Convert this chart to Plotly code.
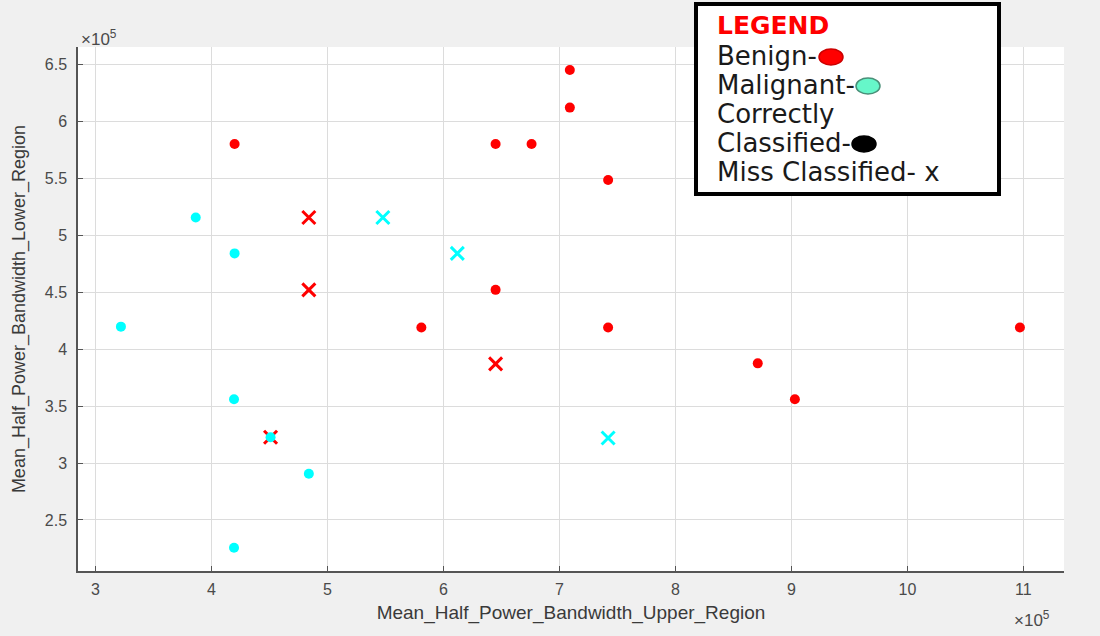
import plotly.graph_objects as go

# Data (values in units of 1e5, scaled below)
benign_correct_x = [7.09, 7.09, 4.20, 6.45, 6.76, 7.42, 6.45, 5.81, 7.42, 10.97, 8.71, 9.03]
benign_correct_y = [6.45, 6.12, 5.80, 5.80, 5.80, 5.485, 4.52, 4.19, 4.19, 4.19, 3.875, 3.56]

malig_correct_x = [3.865, 4.20, 3.22, 4.195, 4.84, 4.195, 4.51]
malig_correct_y = [5.155, 4.84, 4.197, 3.559, 2.906, 2.256, 3.226]

benign_miss_x = [4.84, 4.84, 6.45, 4.51]
benign_miss_y = [5.155, 4.52, 3.87, 3.226]

malig_miss_x = [5.478, 6.12, 7.42]
malig_miss_y = [5.155, 4.84, 3.22]

x_ticks = [3, 4, 5, 6, 7, 8, 9, 10, 11]
y_ticks = [2.5, 3, 3.5, 4, 4.5, 5, 5.5, 6, 6.5]

SCALE = 1e5
def s(v):
    return [a * SCALE for a in v]

RED = "#ff0000"
CYAN = "#00ffff"

fig = go.Figure()
fig.add_trace(go.Scatter(x=s(benign_miss_x), y=s(benign_miss_y), mode="markers",
                         marker=dict(symbol="x-thin", size=13, line=dict(color=RED, width=3)),
                         showlegend=False))
fig.add_trace(go.Scatter(x=s(malig_miss_x), y=s(malig_miss_y), mode="markers",
                         marker=dict(symbol="x-thin", size=13, line=dict(color=CYAN, width=3)),
                         showlegend=False))
fig.add_trace(go.Scatter(x=s(benign_correct_x), y=s(benign_correct_y), mode="markers",
                         marker=dict(symbol="circle", size=10, color=RED, line=dict(width=0)),
                         showlegend=False))
fig.add_trace(go.Scatter(x=s(malig_correct_x), y=s(malig_correct_y), mode="markers",
                         marker=dict(symbol="circle", size=10, color=CYAN, line=dict(width=0)),
                         showlegend=False))

AX_COLOR = "#555555"
TICK_FONT = dict(family="Liberation Sans, Arial, sans-serif", size=16, color="#4a4a4a")
XTITLE_FONT = dict(family="Liberation Sans, Arial, sans-serif", size=19, color="#3a3a3a")
YTITLE_FONT = dict(family="Liberation Sans, Arial, sans-serif", size=18, color="#3a3a3a")

fig.update_xaxes(range=[2.85 * SCALE, 11.35 * SCALE],
                 tickvals=s(x_ticks), ticktext=[str(t) for t in x_ticks],
                 ticks="inside", ticklen=5, tickwidth=1.2, tickcolor=AX_COLOR,
                 showline=True, linecolor=AX_COLOR, linewidth=1.5,
                 showgrid=True, gridcolor="#dcdcdc", gridwidth=1,
                 zeroline=False, tickfont=TICK_FONT, ticklabelstandoff=3,
                 title=dict(text="Mean_Half_Power_Bandwidth_Upper_Region", font=XTITLE_FONT, standoff=9))
fig.update_yaxes(range=[2.052 * SCALE, 6.652 * SCALE],
                 tickvals=s(y_ticks), ticktext=[("%g" % t) for t in y_ticks],
                 ticks="inside", ticklen=5, tickwidth=1.2, tickcolor=AX_COLOR,
                 showline=True, linecolor=AX_COLOR, linewidth=1.5,
                 showgrid=True, gridcolor="#dcdcdc", gridwidth=1,
                 zeroline=False, tickfont=TICK_FONT, ticklabelstandoff=6,
                 title=dict(text="Mean_Half_Power_Bandwidth_Lower_Region", font=YTITLE_FONT, standoff=14))

L, R, T, B = 78, 36, 47, 65
W, H = 1100, 636
PW, PH = W - L - R, H - T - B

def px(xp):
    return (xp - L) / PW

def py(yp):
    return (H - B - yp) / PH

shapes = []
annotations = []

# legend box
shapes.append(dict(type="rect", xref="paper", yref="paper",
                   x0=px(696), x1=px(999), y0=py(194), y1=py(4),
                   line=dict(color="black", width=4), fillcolor="white", layer="above"))

LEG_FONT = "DejaVu Sans, Verdana, sans-serif"
legend_lines = [
    ("<b>LEGEND</b>", 25, RED, 25),
    ("Benign-", 56, "#1a1a1a", 26),
    ("Malignant-", 85, "#1a1a1a", 26),
    ("Correctly", 114, "#1a1a1a", 26),
    ("Classified-", 143, "#1a1a1a", 26),
    ("Miss Classified- x", 172, "#1a1a1a", 26),
]
for text, yy, col, fs in legend_lines:
    annotations.append(dict(text=text, xref="paper", yref="paper", x=px(715), y=py(yy),
                            xanchor="left", yanchor="middle", showarrow=False,
                            font=dict(family=LEG_FONT, size=fs, color=col)))

def circ(cx, cy, rx, ry, fill, edge):
    return dict(type="circle", xref="paper", yref="paper",
                x0=px(cx - rx), x1=px(cx + rx), y0=py(cy + ry), y1=py(cy - ry),
                fillcolor=fill, line=dict(color=edge, width=1.5), layer="above")

shapes.append(circ(831, 57, 12, 8, RED, "#cc0000"))
shapes.append(circ(868, 86, 12, 8, "#66f7c9", "#4a8f78"))
shapes.append(circ(864, 144, 12, 8, "black", "black"))

# x10^5 exponent labels
annotations.append(dict(text="×10<sup>5</sup>", xref="paper", yref="paper",
                        x=px(79), y=py(38), xanchor="left", yanchor="middle", showarrow=False,
                        font=dict(family="Liberation Sans, Arial, sans-serif", size=17, color="#4a4a4a")))
annotations.append(dict(text="×10<sup>5</sup>", xref="paper", yref="paper",
                        x=px(1012), y=py(619), xanchor="left", yanchor="middle", showarrow=False,
                        font=dict(family="Liberation Sans, Arial, sans-serif", size=17, color="#4a4a4a")))

fig.update_layout(width=W, height=H,
                  margin=dict(l=L, r=R, t=T, b=B),
                  paper_bgcolor="#f0f0f0", plot_bgcolor="white",
                  shapes=shapes, annotations=annotations, showlegend=False)

fig.write_html("out.html", config={"displayModeBar": False},
               post_script="document.body.style.margin='0';document.body.style.padding='0';")
